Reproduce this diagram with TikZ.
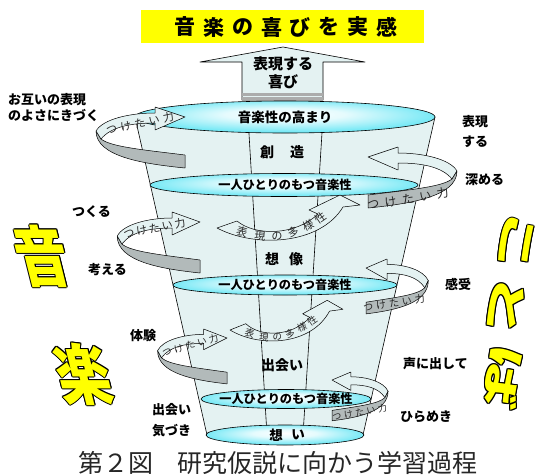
\documentclass[tikz,border=0pt]{standalone}
\usepackage{fontspec}
\newfontfamily\jp{Noto Sans CJK JP}
\usetikzlibrary{calc}

\definecolor{conefill}{RGB}{228,242,242}
\definecolor{bandgray}{RGB}{178,186,186}
\definecolor{ecyan}{RGB}{40,220,240}
\definecolor{tyellow}{RGB}{255,255,0}

\pgfdeclareradialshading{ellsh}{\pgfpoint{0bp}{5bp}}{color(0bp)=(white); color(10bp)=(white!88!ecyan); color(36bp)=(ecyan); color(50bp)=(ecyan)}

\tikzset{
  lw/.style={line width=0.6pt},
  band/.style={fill=conefill, draw=black, line width=0.5pt, line join=round},
  gband/.style={fill=bandgray, draw=black, line width=0.5pt, line join=round},
  ell/.style={shade, shading=ellsh, draw=black, line width=0.6pt},
  lbl/.style={font=\jp\bfseries\fontsize{13}{13}\selectfont, inner sep=0, anchor=west},
  etext/.style={font=\jp\bfseries\fontsize{12.2}{12.2}\selectfont, inner sep=0},
  sect/.style={font=\jp\bfseries\fontsize{14}{14}\selectfont, inner sep=0},
  tk/.style={inner sep=0, text=black!85},
  yc/.style={font=\jp\bfseries\fontsize{66}{66}\selectfont, inner sep=0},
  yd/.style={font=\jp\bfseries\fontsize{56}{56}\selectfont, inner sep=0},
}

\newcommand\tkr[1]{つ\kern#1 け\kern#1 た\kern#1 い\kern#1 力}

% left spiral: light band with text and arrow on top, gray band below
\newcommand\spiralL[8]{%
 \begin{scope}[shift={#1}, xscale=#2, yscale=#3]
  \path[gband] (0,38) -- (0,51) .. controls (-40,47) and (-89,40) .. (-89,14) -- (-84,22) .. controls (-74,30) and (-40,33) .. (0,38) -- cycle;
  \path[band] (-30,-4) .. controls (-55,-4) and (-82,2) .. (-89,14) -- (-84,22) .. controls (-74,10) and (-55,6) .. (-30,6) -- (-30,13) -- (0,0) -- (-30,-10) -- cycle;
  \node[tk, font=\jp\fontsize{#4}{#4}\selectfont, rotate=#7] (#8) at #6 {\tkr{#5}};
 \end{scope}}

% right spiral: light band with arrow on top, gray band with text in front
\newcommand\spiralR[8]{%
 \begin{scope}[shift={#1}, xscale=#2, yscale=#3]
  \path[band] (-30,-4) .. controls (-55,-4) and (-82,2) .. (-89,14) -- (-84,22) .. controls (-74,10) and (-55,6) .. (-30,6) -- (-30,13) -- (0,0) -- (-30,-10) -- cycle;
  \path[gband] (0,38) -- (0,51) .. controls (-40,47) and (-89,40) .. (-89,14) -- (-84,22) .. controls (-74,30) and (-40,33) .. (0,38) -- cycle;
  \node[tk, font=\jp\fontsize{#4}{#4}\selectfont, rotate=#7] (#8) at #6 {\tkr{#5}};
 \end{scope}}

% curved arrow with text
\newcommand\varrow[5]{%
 \begin{scope}[shift={#1}, xscale=#2, yscale=#3]
  \path[band] (20,-7) .. controls (38,8) and (78,8) .. (101,-14) -- (92,-18) -- (123,-33) -- (143,-23) -- (126,-21) .. controls (103,17) and (38,20) .. (0,0) -- cycle;
  \foreach \c/\px/\py/\r [count=\k] in {表/25/4/-15,現/43/8/-5,の/60/8/5,多/76/4/15,様/91/-3/25,性/104/-10/35}
    \node[tk, font=\jp\fontsize{#4}{#4}\selectfont, rotate=\r] (#5\k) at (\px,\py) {\c};
 \end{scope}}

% yellow outlined character
\newcommand\ychar[5]{%
  \foreach \dx/\dy in {1.1/0,-1.1/0,0/1.1,0/-1.1,0.8/0.8,-0.8/0.8,0.8/-0.8,-0.8/-0.8}
    \node[#3, text=black] at (#1+\dx,#2+\dy) {#4};
  \node[#3, text=tyellow] (#5) at (#1,#2) {#4};}

\begin{document}
\begin{tikzpicture}[x=1pt,y=-1pt]
\useasboundingbox (0,0) rectangle (542,475);
\fill[white] (0,0) rectangle (542,475);

% title
\fill[tyellow] (141,10) rectangle (424,43);
\foreach \c [count=\i from 0] in {音,楽,の,喜,び,を,実,感}
  \node[font=\jp\bfseries\fontsize{21}{21}\selectfont, inner sep=0] (t\i) at (185+28.86*\i,27) {\c};

% upward arrow
\path[band, line width=0.6pt] (242,100) -- (242,62) -- (200,62) -- (283,47) -- (365,62) -- (323,62) -- (323,100) -- cycle;
\fill[gray!65] (242.3,93.3) rectangle (322.7,95.6);
\fill[gray!65] (242.3,97.2) rectangle (322.7,99.6);
\node[font=\jp\bfseries\fontsize{15}{15}\selectfont, inner sep=0] (ua1) at (283,64) {表現する};
\node[font=\jp\bfseries\fontsize{15}{15}\selectfont, inner sep=0] (ua2) at (283,82) {喜び};

% cone
\path[fill=conefill, draw=black, lw] (135,117) -- (435,117) -- (363,435) -- (207,435) -- cycle;
\draw[lw] (248,117) -- (267,435);
\draw[lw] (323,117) -- (303,435);

% ellipses
\path[ell] (285,117) ellipse [x radius=150pt, y radius=16pt];
\node[etext, font=\jp\bfseries\fontsize{13.5}{13.5}\selectfont] (e1) at (285,117) {音楽性の高まり};
\path[ell] (284,185) ellipse [x radius=134pt, y radius=11.5pt];
\node[etext] (e2) at (285,185) {一人ひとりのもつ音楽性};
\path[ell] (285,285) ellipse [x radius=112pt, y radius=10pt];
\node[etext] (e3) at (285,285) {一人ひとりのもつ音楽性};
\path[ell] (286,399) ellipse [x radius=85pt, y radius=9.5pt];
\node[etext] (e4) at (286,399) {一人ひとりのもつ音楽性};
\path[ell] (285,435) ellipse [x radius=79pt, y radius=10pt];
\node[sect, font=\jp\bfseries\fontsize{13.5}{13.5}\selectfont] (e5a) at (276,435) {想};
\node[sect, font=\jp\bfseries\fontsize{13.5}{13.5}\selectfont] (e5b) at (298,435) {い};

% section words
\node[sect] (s1a) at (267,152) {創};
\node[sect] (s1b) at (297,152) {造};
\node[sect] (s2a) at (272,259) {想};
\node[sect] (s2b) at (296,259) {像};
\node[sect] (s3) at (282,365) {出会い};

% curved arrows inside
\varrow{(217,228)}{1}{1}{11}{va}
\varrow{(230,330)}{0.79}{0.9}{9.5}{vb}

% spirals
\spiralL{(185,117)}{1}{1}{11}{3.5pt}{(-45,6)}{12}{tl1}
\spiralL{(200,222)}{0.93}{1}{11}{2pt}{(-49,6)}{11}{tl2}
\spiralL{(227,338)}{0.78}{0.9}{9.5}{2.5pt}{(-47,8)}{15}{tl3}
\spiralR{(368,157)}{-1}{1}{12}{5.5pt}{(-40,42)}{9}{tr1}
\spiralR{(366,268)}{-0.7}{0.9}{10}{3pt}{(-40,39)}{8}{tr2}
\spiralR{(332,380)}{-0.63}{0.8}{9}{2.5pt}{(-44,41)}{10}{tr3}

% outer labels
\node[lbl] (l1) at (8,100) {お互いの表現};
\node[lbl] (l2) at (8,115) {のよさにきづく};
\node[lbl] (r1) at (462,122) {表現};
\node[lbl] (r2) at (462,142) {する};
\node[lbl] (r3) at (465,180) {深める};
\node[lbl] (l3) at (72,212) {つくる};
\node[lbl] (l4) at (88,270) {考える};
\node[lbl] (r4) at (445,284) {感受};
\node[lbl] (l5) at (130,336) {体験};
\node[lbl] (r5) at (403,364) {声に出して};
\node[lbl] (r6) at (400,417) {ひらめき};
\node[lbl] (l6) at (152,410) {出会い};
\node[lbl] (l7) at (152,431) {気づき};

% big yellow characters
\ychar{42}{256}{yc, xslant=-0.25, xscale=0.8}{音}{yon}
\ychar{83}{374}{yc, xslant=-0.25, xscale=0.82}{楽}{yraku}
\ychar{516}{242}{yd, rotate=-100, xscale=1.12, yscale=0.68}{こ}{yko}
\ychar{506}{306}{yd, rotate=-100, xscale=1.12, yscale=0.68}{と}{yto}
\ychar{504}{378}{yd, rotate=-100, xscale=1.12, yscale=0.68}{ば}{yba}

% caption
\node[font=\jp\fontsize{25}{25}\selectfont, inner sep=0, text=black!85] (cap) at (278,463) {第２図　研究仮説に向かう学習過程};
\end{tikzpicture}
\end{document}
